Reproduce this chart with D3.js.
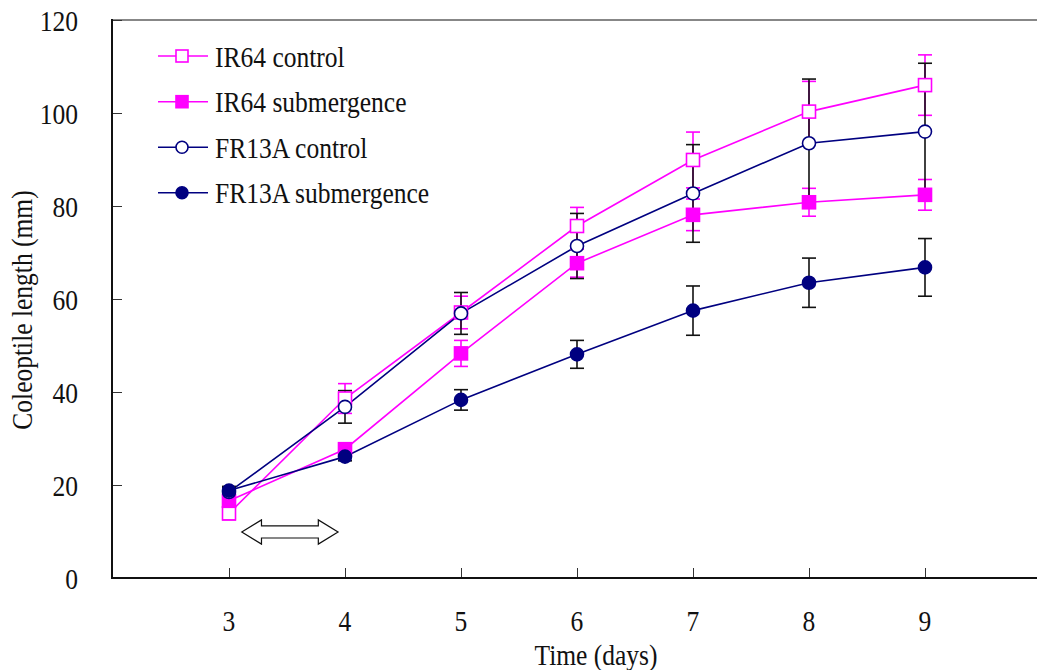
<!DOCTYPE html>
<html>
<head>
<meta charset="utf-8">
<script src="https://cdn.jsdelivr.net/npm/d3@7"></script>
<style>
  html, body { margin: 0; padding: 0; background: #fff; }
  svg { display: block; }
  text { font-family: "Liberation Serif", "Times New Roman", serif; fill: #111; }
</style>
</head>
<body>
<svg id="chart" width="1037" height="670"></svg>
<script>
// Coleoptile length over time, mean ± SE
const days = [3, 4, 5, 6, 7, 8, 9];
const yTicks = [0, 20, 40, 60, 80, 100, 120];

const ir64Control      = [13.9, 38.6, 57.1, 75.7, 89.9, 100.3, 106.0];
const ir64ControlErr   = [1.4, 3.2, 3.5, 4.0, 6.0, 6.5, 6.5];
const ir64Sub          = [16.6, 27.7, 48.3, 67.7, 78.1, 80.8, 82.4];
const ir64SubErr       = [1.0, 1.0, 2.8, 3.0, 3.4, 3.0, 3.3];
const fr13aControl     = [18.5, 36.8, 56.9, 71.4, 82.7, 93.5, 96.0];
const fr13aControlErr  = [1.0, 3.5, 4.5, 7.0, 10.5, 13.8, 14.7];
const fr13aSub         = [18.8, 26.1, 38.3, 48.1, 57.5, 63.5, 66.8];
const fr13aSubErr      = [0.9, 0.9, 2.2, 3.0, 5.3, 5.3, 6.2];

const seriesNames = ["IR64 control", "IR64 submergence", "FR13A control", "FR13A submergence"];

// Submergence period marker (double arrow), in data units: [day, length]
const arrowOutline = [
  [3.11, 9.9], [3.28, 12.5], [3.28, 11.2], [3.77, 11.2], [3.77, 12.5],
  [3.94, 9.9], [3.77, 7.3], [3.77, 8.6], [3.28, 8.6], [3.28, 7.3]
];

const MAGENTA = "#ff00ff";
const NAVY = "#000080";

const series = [
  { name: seriesNames[0], values: ir64Control,  err: ir64ControlErr,  color: MAGENTA, shape: "square", filled: false, errColor: MAGENTA },
  { name: seriesNames[1], values: ir64Sub,      err: ir64SubErr,      color: MAGENTA, shape: "square", filled: true,  errColor: MAGENTA },
  { name: seriesNames[2], values: fr13aControl, err: fr13aControlErr, color: NAVY,    shape: "circle", filled: false, errColor: "#111" },
  { name: seriesNames[3], values: fr13aSub,     err: fr13aSubErr,     color: NAVY,    shape: "circle", filled: true,  errColor: "#111" }
];

const svg = d3.select("#chart");
const plotLeft = 112, plotTop = 20, plotBottom = 578;
const FONT_SIZE = 29, NARROW = 0.88;

const x = d3.scaleLinear().domain([2, 10]).range([113, 1041]);
const y = d3.scaleLinear().domain([0, 120]).range([plotBottom, plotTop]);

// Text in a tall, narrow face: horizontally condensed around its anchor point
function label(parent, tx, ty, str, anchor, extra) {
  const g = parent.append("g")
    .attr("transform", `translate(${tx},${ty})${extra || ""} scale(${NARROW},1)`);
  g.append("text").attr("x", 0).attr("y", 0)
    .attr("text-anchor", anchor).attr("font-size", FONT_SIZE).text(str);
  return g;
}

// Frame
svg.append("line").attr("x1", plotLeft).attr("x2", 1037).attr("y1", plotTop).attr("y2", plotTop)
  .attr("stroke", "#111").attr("stroke-width", 1.2);

// Y axis (ticks pointing inward)
const yAxis = d3.axisRight(y).tickValues(yTicks).tickSize(10).tickFormat("");
const gy = svg.append("g").attr("transform", `translate(${plotLeft},0)`).call(yAxis);
gy.select(".domain").remove();
gy.selectAll(".tick line").attr("stroke", "#333").attr("stroke-width", 1);
svg.append("line").attr("x1", plotLeft).attr("x2", plotLeft).attr("y1", plotTop - 1).attr("y2", plotBottom + 1)
  .attr("stroke", "#111").attr("stroke-width", 2);

const yLabels = svg.append("g");
yTicks.forEach(d => label(yLabels, 78, y(d) + 10.5, d, "end"));

// X axis (ticks pointing inward)
const xAxis = d3.axisTop(x).tickValues(days).tickSize(10).tickFormat("");
const gx = svg.append("g").attr("transform", `translate(0,${plotBottom})`).call(xAxis);
gx.select(".domain").remove();
gx.selectAll(".tick line").attr("stroke", "#333").attr("stroke-width", 1);
svg.append("line").attr("x1", plotLeft - 1).attr("x2", 1037).attr("y1", plotBottom).attr("y2", plotBottom)
  .attr("stroke", "#111").attr("stroke-width", 2);

const xLabels = svg.append("g");
days.forEach(d => label(xLabels, x(d), 631, d, "middle"));

// Axis titles
label(svg, 596, 665, "Time (days)", "middle");
label(svg, 32, 310, "Coleoptile length (mm)", "middle", " rotate(-90)");

// Double arrow
svg.append("path")
  .attr("d", d3.line().x(d => x(d[0])).y(d => y(d[1]))(arrowOutline) + "Z")
  .attr("fill", "#fff").attr("stroke", "#111").attr("stroke-width", 1.2);

// Connecting lines
const line = d3.line().x((d, i) => x(days[i])).y(d => y(d));
series.forEach(s => {
  svg.append("path").attr("d", line(s.values))
    .attr("fill", "none").attr("stroke", s.color).attr("stroke-width", 1.6);
});

// Error bars
const capHalf = 7;
series.forEach(s => {
  const g = svg.append("g").attr("stroke", s.errColor).attr("stroke-width", 1.6);
  days.forEach((d, i) => {
    const cx = x(d), hi = y(s.values[i] + s.err[i]), lo = y(s.values[i] - s.err[i]);
    g.append("line").attr("x1", cx).attr("x2", cx).attr("y1", hi).attr("y2", lo);
    g.append("line").attr("x1", cx - capHalf).attr("x2", cx + capHalf).attr("y1", hi).attr("y2", hi);
    g.append("line").attr("x1", cx - capHalf).attr("x2", cx + capHalf).attr("y1", lo).attr("y2", lo);
  });
});

// Markers
function drawMarker(g, s, cx, cy, size) {
  if (s.shape === "square") {
    g.append("rect").attr("x", cx - size / 2).attr("y", cy - size / 2)
      .attr("width", size).attr("height", size)
      .attr("fill", s.filled ? s.color : "#fff").attr("stroke", s.color).attr("stroke-width", 1.6);
  } else {
    g.append("circle").attr("cx", cx).attr("cy", cy).attr("r", size / 2)
      .attr("fill", s.filled ? s.color : "#fff").attr("stroke", s.color).attr("stroke-width", 1.6);
  }
}
series.forEach(s => {
  const g = svg.append("g");
  days.forEach((d, i) => drawMarker(g, s, x(d), y(s.values[i]), 13));
});

// Legend
const legend = svg.append("g");
const legendRows = [56, 101.7, 147.3, 192.7];
series.forEach((s, i) => {
  const cy = legendRows[i];
  legend.append("line").attr("x1", 158).attr("x2", 208).attr("y1", cy).attr("y2", cy)
    .attr("stroke", s.color).attr("stroke-width", 1.6);
  drawMarker(legend, s, 182, cy, 12);
  label(legend, 215, cy + 10.5, s.name, "start");
});
</script>
</body>
</html>
